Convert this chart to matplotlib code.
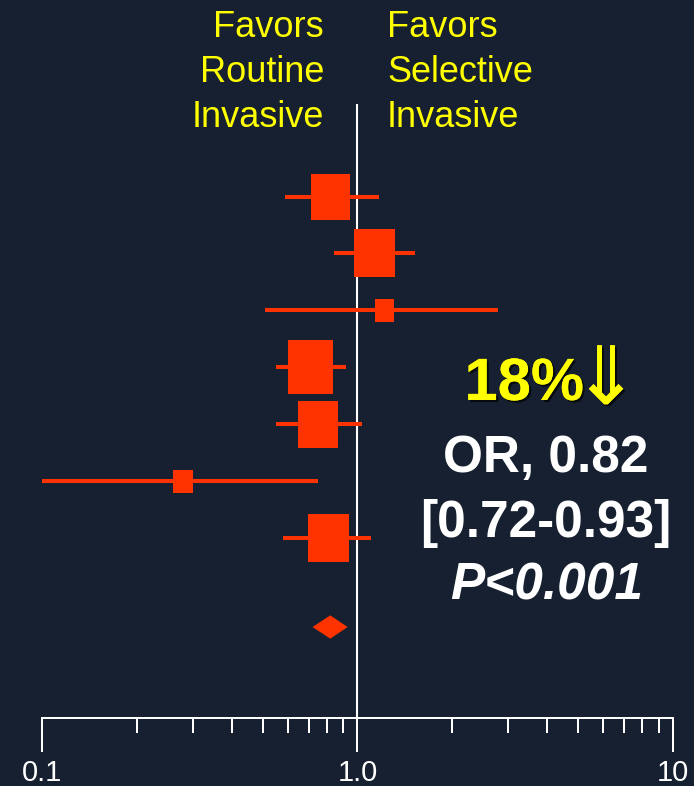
import numpy as np
import matplotlib
matplotlib.use("Agg")
import matplotlib.pyplot as plt
import matplotlib.patheffects as pe
from matplotlib.path import Path
from matplotlib.ticker import FixedLocator, NullFormatter

# per-study odds ratios with 95% CI and relative weight (%)
odds_ratio = [0.82, 1.13, 1.22, 0.71, 0.75, 0.28, 0.81]
ci_low = [0.59, 0.84, 0.51, 0.55, 0.55, 0.10, 0.58]
ci_high = [1.17, 1.52, 2.79, 0.92, 1.03, 0.75, 1.10]
weight = [16.4, 17.9, 4.1, 22.6, 17.1, 4.1, 17.9]

# pooled estimate
pooled_or = 0.82
pooled_low = 0.72
pooled_high = 0.93

major_ticks = [0.1, 1.0, 10.0]
major_labels = ["0.1", "1.0", "10"]
minor_ticks = [v * d for d in (0.1, 1.0) for v in range(2, 10)]

left_label = ["Favors", "Routine", "Invasive"]
right_label = ["Favors", "Selective", "Invasive"]
summary_lines = ["OR, 0.82", "[0.72-0.93]", "P<0.001"]

BG = "#162030"
RED = "#ff3300"
YELLOW = "#ffff00"
W, H = 694, 786

plt.rcParams["font.family"] = ["Liberation Sans", "DejaVu Sans"]

fig = plt.figure(figsize=(W / 100, H / 100), dpi=100, facecolor=BG)
ax = fig.add_axes([42 / W, 68 / H, (673 - 42) / W, (718 - 104) / H])
ax.set_facecolor(BG)
ax.set_xscale("log")
ax.set_xlim(0.1, 10)
ax.set_ylim(10.165, -0.626)

rows = np.arange(1, len(odds_ratio) + 1)
pooled_row = 8.566

ax.axvline(1.0, color="white", lw=1.5, zorder=1)

# confidence interval bars
ax.hlines(rows, ci_low, ci_high, color=RED, lw=2.9, zorder=2)

# weighted boxes, slightly taller than wide
box = Path([(-0.422, -0.5), (0.422, -0.5), (0.422, 0.5), (-0.422, 0.5), (-0.422, -0.5)],
           [Path.MOVETO, Path.LINETO, Path.LINETO, Path.LINETO, Path.CLOSEPOLY])
side_pt = 11.36 * np.sqrt(weight) * 0.72
ax.scatter(odds_ratio, rows, s=side_pt ** 2, marker=box, color=RED, linewidths=0, zorder=3)

# pooled diamond
dh = 0.205
ax.fill([pooled_low, pooled_or, pooled_high, pooled_or],
        [pooled_row, pooled_row - dh, pooled_row, pooled_row + dh],
        color=RED, lw=0, zorder=3)

for side in ("top", "left", "right"):
    ax.spines[side].set_visible(False)
ax.spines["bottom"].set_color("white")
ax.spines["bottom"].set_linewidth(1.44)
ax.set_yticks([])
ax.xaxis.set_major_locator(FixedLocator(major_ticks))
ax.set_xticklabels(major_labels)
ax.xaxis.set_minor_locator(FixedLocator(minor_ticks))
ax.xaxis.set_minor_formatter(NullFormatter())
ax.tick_params(axis="x", which="major", direction="out", length=24.5, width=1.44,
               colors="white", labelsize=21, pad=5)
ax.tick_params(axis="x", which="minor", direction="out", length=10.8, width=1.44,
               colors="white")


def fx(px):
    return px / W


def fy(py):
    return 1 - py / H


for i, (lt, rt) in enumerate(zip(left_label, right_label)):
    base = 36.7 + 45 * i
    fig.text(fx(324), fy(base), lt, color=YELLOW, fontsize=26, ha="right", va="baseline")
    fig.text(fx(387), fy(base), rt, color=YELLOW, fontsize=26, ha="left", va="baseline")

shadow = [pe.withSimplePatchShadow(offset=(1.5, -1.5), shadow_rgbFace="black", alpha=0.7), pe.Normal()]
fig.text(fx(584), fy(400), "18%", color=YELLOW, fontsize=43, fontweight="bold",
         ha="right", va="baseline", path_effects=shadow)
fig.text(fx(606), fy(404), "\u21d3", color=YELLOW, fontsize=58,
         family=["Noto Sans CJK JP", "DejaVu Sans"],
         ha="center", va="baseline", path_effects=shadow)

fig.text(fx(546), fy(472), summary_lines[0], color="white", fontsize=37,
         fontweight="bold", ha="center", va="baseline")
fig.text(fx(546), fy(537), summary_lines[1], color="white", fontsize=37,
         fontweight="bold", ha="center", va="baseline")
fig.text(fx(547), fy(600), summary_lines[2], color="white", fontsize=37,
         fontweight="bold", fontstyle="italic", ha="center", va="baseline")

fig.savefig("out.png", dpi=100, facecolor=BG)
